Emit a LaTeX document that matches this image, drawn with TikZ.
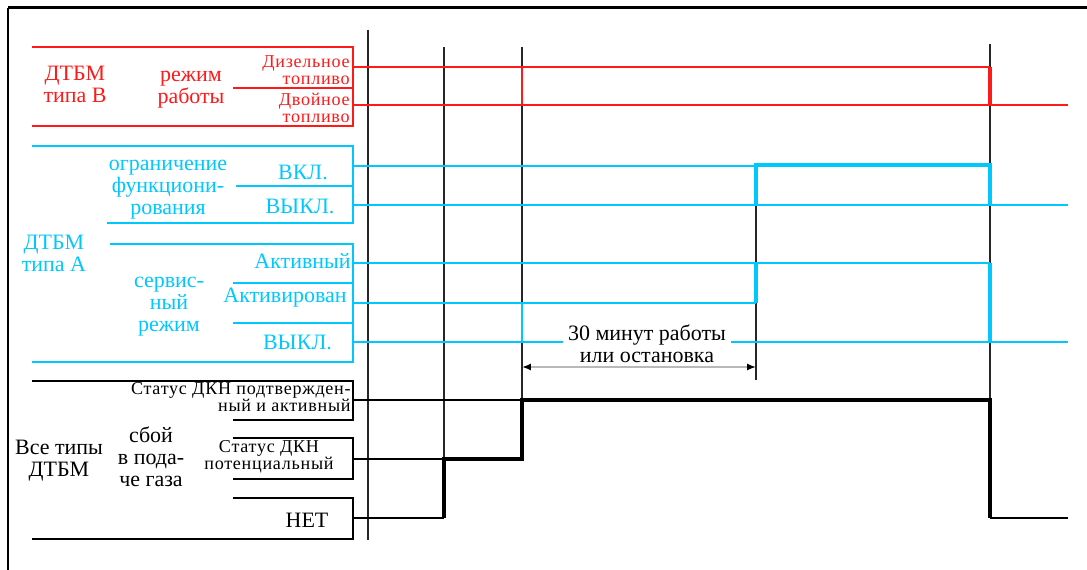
\documentclass[tikz,border=0pt]{standalone}
\usepackage{fontspec}
\setmainfont{Liberation Serif}
\newfontfamily\lblfont[LetterSpace=4]{Liberation Serif}
\usepackage{tikz}
\usetikzlibrary{arrows.meta,positioning}

\definecolor{sigred}{RGB}{255,25,25}
\definecolor{sigcyan}{RGB}{0,200,255}

\tikzset{
  ttl/.style={align=center, inner sep=0pt, font=\fontsize{12.5}{12.6}\selectfont},
  sml/.style={align=right, inner sep=0pt, font=\lblfont\fontsize{10.3}{9.6}\selectfont},
  sig/.style={line width=1pt},
  sigthick/.style={line width=2.3pt},
  marker/.style={line width=0.9pt, black!85},
}

\begin{document}
\begin{tikzpicture}[x=0.02cm, y=-0.02cm]
   \useasboundingbox (0,0) rectangle (1087,570);

   %frame
   \draw[line width=1.7pt] (8,8) -- (1087,8);
   \draw[line width=0.8pt] (8,8) -- (8,570);

   %time markers
   \draw[marker] (368,30) -- (368,540);
   \draw[marker] (444,47) -- (444,518);
   \draw[marker] (522,47) -- (522,459);
   \draw[marker] (756,205) -- (756,380);
   \draw[marker] (990,44) -- (990,518);

   %type B, operating mode
   \draw[sigred, sig] (32,47) -- (353,47) -- (353,126) -- (32,126);
   \draw[sigred, sig] (233,88) -- (353,88);
   \draw[sigred, sig] (353,67) -- (990,67);
   \draw[sigred, sig] (353,105) -- (1068,105);
   \draw[sigred, sig] (522,67) -- (522,105);
   \draw[sigred, sigthick] (990,67) -- (990,105);

   \node[ttl, text=sigred] (typb) at (75,84) {ДТБМ\\типа В};
   \node[ttl, text=sigred] (mode) at (191,90) {режим\\работы};
   \node[sml, text=sigred, anchor=east] (diesel) at (350,70) {Дизельное\\топливо};
   \node[sml, text=sigred, anchor=east] (dual) at (350,107.5) {Двойное\\топливо};

   %type A, limitation and service mode
   \draw[sigcyan, sig] (32,146) -- (353,146) -- (353,223) -- (107,223);
   \draw[sigcyan, sig] (236,186) -- (353,186);
   \draw[sigcyan, sig] (110,244) -- (353,244) -- (353,362) -- (32,362);
   \draw[sigcyan, sig] (233,283) -- (353,283);
   \draw[sigcyan, sig] (233,323) -- (353,323);

   \draw[sigcyan, sig] (353,166) -- (756,166);
   \draw[sigcyan, sig] (353,205) -- (1068,205);
   \draw[sigcyan, sigthick] (756,205) -- (756,165) -- (990,165) -- (990,205);
   \draw[sigcyan, sig] (353,263) -- (990,263);
   \draw[sigcyan, sig] (353,303) -- (756,303);
   \draw[sigcyan, sig] (522,303) -- (522,342);
   \draw[sigcyan, sig] (353,342) -- (1068,342);
   \draw[sigcyan, sigthick] (756,303) -- (756,263);
   \draw[sigcyan, sigthick] (990,263) -- (990,342);

   \node[ttl, text=sigcyan] (typa) at (54,253) {ДТБМ\\типа А};
   \node[ttl, text=sigcyan] (limit) at (168,189.5) {ограничение\\функциони-\\рования};
   \node[ttl, text=sigcyan] (on) at (303,172.5) {ВКЛ.};
   \node[ttl, text=sigcyan] (off1) at (300,206.5) {ВЫКЛ.};
   \node[ttl, text=sigcyan] (serv) at (169,307) {сервис-\\ный\\режим};
   \node[ttl, text=sigcyan, anchor=east] (act) at (351,261) {Активный};
   \node[ttl, text=sigcyan, anchor=east] (actd) at (347,297.5) {Активирован};
   \node[ttl, text=sigcyan] (off2) at (297.5,342.5) {ВЫКЛ.};

   %all types, gas supply failure
   \draw[sig] (32,381) -- (353,381) -- (353,420) -- (233,420);
   \draw[sig] (233,438) -- (353,438) -- (353,479) -- (233,479);
   \draw[sig] (233,498) -- (353,498) -- (353,539) -- (32,539);

   \draw[sig] (353,400) -- (522,400);
   \draw[sig] (353,459) -- (444,459);
   \draw[sig] (353,518) -- (444,518);
   \draw[sigthick] (444,518) -- (444,459) -- (522,459) -- (522,400) -- (990,400) -- (990,518);
   \draw[sig] (990,518) -- (1068,518);

   \node[ttl] (alltyp) at (59,461) {Все типы\\ДТБМ};
   \node[ttl] (fail) at (151,456.5) {сбой\\в пода-\\че газа};
   \node[sml, anchor=east] (conf) at (351,397.5) {Статус ДКН подтвержден-\\ный и активный};
   \node[sml, align=center] (pot) at (269,457) {Статус ДКН\\потенциальный};
   \node[ttl] (none) at (307,520) {НЕТ};

   %30 min span
   \draw[gray!55, line width=1.4pt, {Latex[black,length=5pt,width=4pt]}-{Latex[black,length=5pt,width=4pt]}] (522,367) -- (756,367);
   \node[ttl, fill=white, inner xsep=3pt] (span) at (647,344) {30 минут работы\\или остановка};
\end{tikzpicture}
\end{document}
